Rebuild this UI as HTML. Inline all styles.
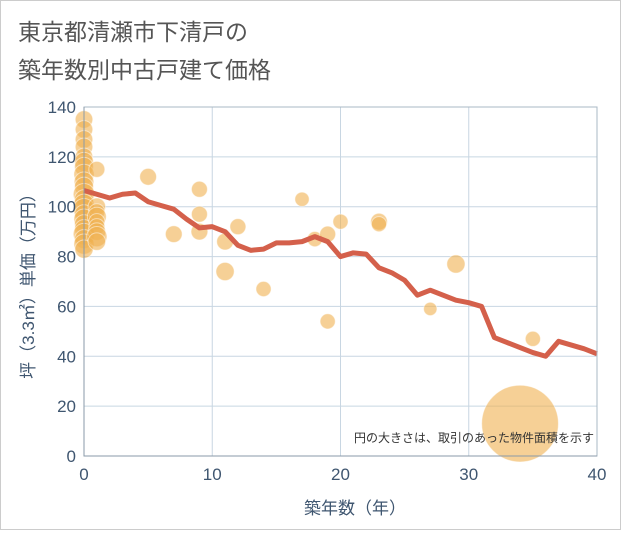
<!DOCTYPE html>
<html><head><meta charset="utf-8"><style>
body{margin:0;background:#fff;}
svg text{font-family:"Liberation Sans","Noto Sans CJK JP",sans-serif;}
</style></head><body>
<svg width="621" height="530" xmlns="http://www.w3.org/2000/svg">
<rect x="0.5" y="0.5" width="620" height="529" fill="#fff" stroke="#ccc"/>
<text x="18" y="40" font-size="23" fill="#555">東京都清瀬市下清戸の</text>
<text x="18" y="78" font-size="23" fill="#555">築年数別中古戸建て価格</text>
<g id="grid"></g>
<g id="pts"></g>
<path id="line" fill="none" stroke="#d4604b" stroke-width="5" stroke-linejoin="round"/>
<g id="axes"></g>
<text x="594" y="442" font-size="12" fill="#333" text-anchor="end">円の大きさは、取引のあった物件面積を示す</text>
<text x="355" y="514" font-size="17" fill="#3f5670" text-anchor="middle">築年数（年）</text>
<text transform="translate(34,282) rotate(-90)" font-size="17" fill="#3f5670" text-anchor="middle">坪（3.3㎡）単価（万円）</text>
</svg>
<script>
const xTicks=[0,10,20,30,40];
const yTicks=[0,20,40,60,80,100,120,140];
const lineYears=[0,1,2,3,4,5,6,7,8,9,10,11,12,13,14,15,16,17,18,19,20,21,22,23,24,25,26,27,28,29,30,31,32,33,34,35,36,37,38,39,40];
const lineValues=[106.5,105,103.5,105,105.5,102,100.5,99,95,91.5,92,90,84.5,82.5,83,85.5,85.5,86,88,86,80,81.5,81,75.5,73.5,70.5,64.5,66.5,64.5,62.5,61.5,60,47.5,45.5,43.5,41.5,40,46,44.5,43,41];
const ptAge=[0,0,0,0,0,0,0,0,0,0,0,0,0,0,0,0,0,0,0,0,0,0,1,1,1,1,1,1,1,1,1,5,9,9,7,9,12,11,11,14,17,18,19,19,20,23,23,29,27,35,34];
const ptValue=[135,131,127,124,120,118,116,113,110,108,105,103,101,99,97,95,93,91,89,87,85,83,100,98,96,94,92,90,88,86,115,112,107,97,89,90,92,86,74,67,103,87,89,54,94,94,93,77,59,47,13];
const ptArea=[1.2,1.2,1.2,1.2,1.2,1.4,1.4,1.6,1.5,1.4,1.8,1.4,1.6,1.8,1.4,1.6,1.4,1.4,1.8,1.4,1.6,1.3,1.2,1,1.4,1,1,1.2,1.6,1.2,1,1.1,1,1,1.1,1.1,1,1.1,1.3,0.9,0.8,0.9,1,0.9,0.9,1.1,0.9,1.3,0.7,0.9,23];
const X0=84,X1=597,Y0=456,Y1=107;
const sx=v=>X0+(v/40)*(X1-X0), sy=v=>Y0-(v/140)*(Y0-Y1);
const ns="http://www.w3.org/2000/svg";
const grid=document.getElementById('grid'),axes=document.getElementById('axes'),pts=document.getElementById('pts');
function mk(tag,attrs,parent){const e=document.createElementNS(ns,tag);for(const k in attrs)e.setAttribute(k,attrs[k]);parent.appendChild(e);return e;}
yTicks.forEach(t=>{const l=mk('line',{x1:X0,x2:X1,y1:sy(t),y2:sy(t),stroke:'#c8d6e2','stroke-width':1},grid);


const tx=mk('text',{x:X0-8,y:sy(t)+6,'font-size':17,fill:'#3f5670','text-anchor':'end'},axes);tx.textContent=t;

});
xTicks.forEach(t=>{const l=mk('line',{x1:sx(t),x2:sx(t),y1:Y1,y2:Y0,stroke:'#c8d6e2','stroke-width':1},grid);


const tx=mk('text',{x:sx(t),y:Y0+24,'font-size':17,fill:'#3f5670','text-anchor':'middle'},axes);tx.textContent=t;

});
const bx=mk('rect',{x:X0,y:Y1,width:X1-X0,height:Y0-Y1,fill:'none',stroke:'#aab8c4','stroke-width':1},axes);


const ax=mk('path',{d:`M${X0},${Y1}V${Y0}H${X1}`,fill:'none',stroke:'#8a9aa8','stroke-width':1},axes);


ptAge.forEach((a,i)=>{const c=mk('circle',{cx:sx(a),cy:sy(ptValue[i]),r:8*Math.sqrt(ptArea[i]),fill:'#f0b050','fill-opacity':0.6,stroke:'#fff','stroke-opacity':0.5,'stroke-width':1},pts);

});
document.getElementById('line').setAttribute('d',lineYears.map((y,i)=>(i?'L':'M')+sx(y)+','+sy(lineValues[i])).join(''));
</script>
</body></html>
